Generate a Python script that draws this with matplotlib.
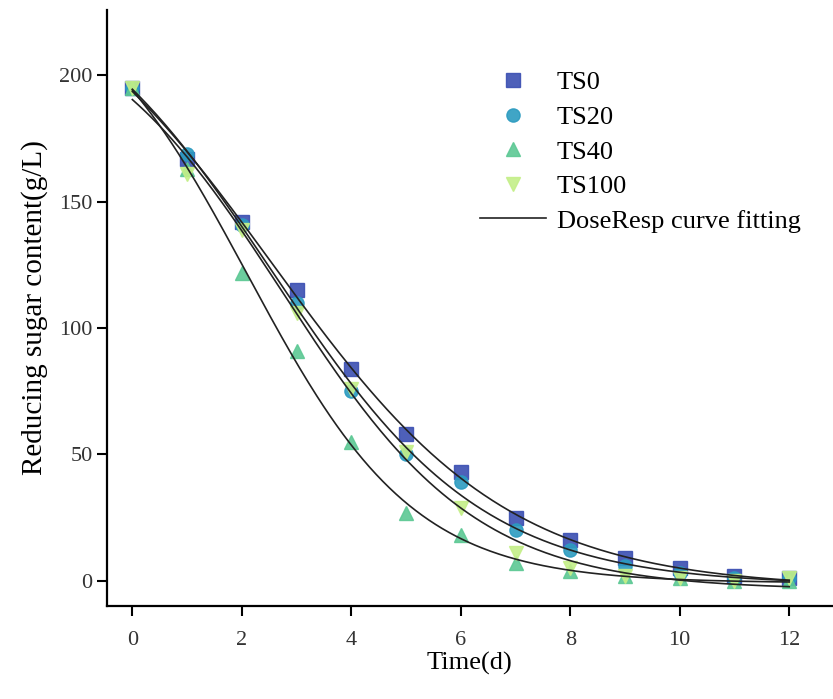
import numpy as np
import matplotlib
matplotlib.use('Agg')
import matplotlib.pyplot as plt
from matplotlib.lines import Line2D

days = np.arange(0, 13)
ts0 = [195, 167, 142, 115, 84, 58, 43, 25, 16, 9, 5, 2, 1]
ts20 = [195, 169, 141, 110, 75, 50, 39, 20, 12, 6, 3, 1, 1]
ts40 = [195, 163, 122, 91, 55, 27, 18, 7, 4, 2, 1, 0, 0]
ts100 = [195, 161, 139, 106, 76, 51, 29, 11, 5, 2, 1, 0, 1]

labels = ['TS0', 'TS20', 'TS40', 'TS100']
markers = ['s', 'o', '^', 'v']
colors = ['#3b4fb2', '#2b9bc0', '#5cc894', '#c4ef88']


def dose_resp(x, a1, a2, logx0, p):
    return a1 + (a2 - a1) / (1 + 10 ** ((logx0 - x) * p))


def fit_dose_resp(x, y):
    # grid over logx0 and p, A1/A2 solved by linear least squares
    x = np.asarray(x, float)
    y = np.asarray(y, float)
    best = None
    for logx0 in np.linspace(0.5, 8, 151):
        for p in np.linspace(0.02, 0.6, 117):
            s = 1 / (1 + 10 ** ((logx0 - x) * p))
            A = np.column_stack([1 - s, s])
            coef, *_ = np.linalg.lstsq(A, y, rcond=None)
            err = np.sum((A @ coef - y) ** 2)
            if best is None or err < best[0]:
                best = (err, coef[0], coef[1], logx0, p)
    return best[1:]


plt.rcParams['font.family'] = ['Liberation Serif', 'DejaVu Serif']

fig = plt.figure(figsize=(8.33, 6.99), dpi=100)
ax = fig.add_axes([0.128, 0.133, 0.872, 0.853])

xs = np.linspace(0, 12, 300)
for y, lab, m, c in zip([ts0, ts20, ts40, ts100], labels, markers, colors):
    ax.plot(days, y, linestyle='none', marker=m, markersize=9.5,
            color=c, alpha=0.9, label=lab, zorder=2)
    a1, a2, logx0, p = fit_dose_resp(days, y)
    ax.plot(xs, dose_resp(xs, a1, a2, logx0, p), color='#222222',
            lw=1.2, zorder=3)

ax.set_xlim(-0.47, 12.8)
ax.set_ylim(-10, 226)
ax.set_xticks(range(0, 13, 2))
ax.set_yticks(range(0, 201, 50))

for s in ['top', 'right']:
    ax.spines[s].set_visible(False)
for s in ['left', 'bottom']:
    ax.spines[s].set_linewidth(1.6)
ax.tick_params(direction='out', length=7, width=1.5, labelsize=16,
               labelcolor='#333333')
ax.tick_params(axis='y', pad=3)
ax.tick_params(axis='x', pad=11)

ax.set_xlabel('Time(d)', fontsize=19, labelpad=1)
ax.set_ylabel('Reducing sugar content(g/L)', fontsize=21, labelpad=8)

handles, _ = ax.get_legend_handles_labels()
handles.append(Line2D([], [], color='#222222', lw=1.2))
ax.legend(handles, labels + ['DoseResp curve fitting'], loc='upper left',
          bbox_to_anchor=(0.5, 0.915), frameon=False, fontsize=19,
          handlelength=2.5, handletextpad=0.4, labelspacing=0.42,
          borderaxespad=0)

fig.savefig('out.png', dpi=100)
